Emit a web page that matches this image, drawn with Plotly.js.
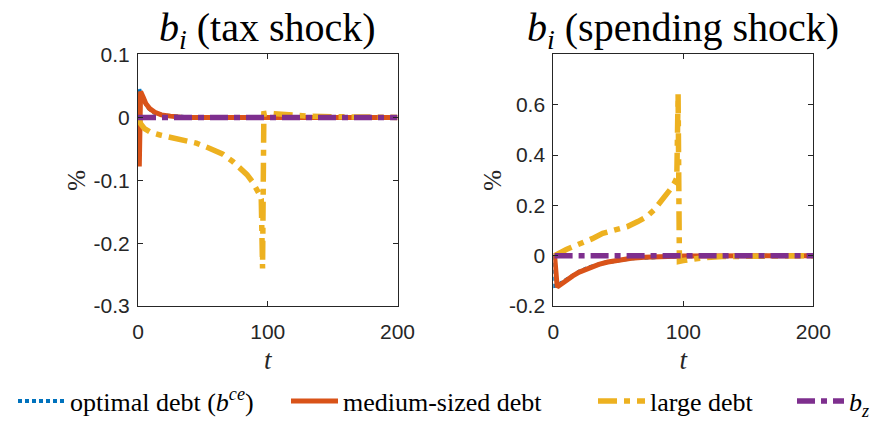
<!DOCTYPE html>
<html>
<head>
<meta charset="utf-8">
<script src="https://cdn.plot.ly/plotly-3.0.1.min.js"></script>
<style>html,body{margin:0;padding:0;background:#fff;}#chart{width:879px;height:425px;}</style>
</head>
<body>
<div id="chart"></div>
<script>
// ---- data ----
var seriesNames = ['optimal debt (<i>b<sup>ce</sup></i>)', 'medium-sized debt', 'large debt', '<i>b<sub>z</sub></i>'];
var panelTitles = ['<i>b<sub>i</sub></i> (tax shock)', '<i>b<sub>i</sub></i> (spending shock)'];
var xLabel = '<i>t</i>';
var yLabel = '%';

// tax shock panel
var tTaxOpt = [0, 1, 2, 3, 5, 8, 12, 20, 40, 200];
var bTaxOpt = [0, 0.045, 0.036, 0.032, 0.024, 0.015, 0.008, 0.003, 0, 0];
var tTaxMed = [0, 1, 2, 3, 4, 6, 9, 13, 18, 25, 35, 200];
var bTaxMed = [0, -0.078, 0.041, 0.038, 0.032, 0.022, 0.014, 0.008, 0.004, 0.002, 0, 0];
var tTaxLarge = [0, 2, 5, 10, 17, 25, 35, 45, 55, 65, 73, 80, 84, 88, 91, 93, 95, 96, 97, 100, 105, 110, 120, 130, 150, 200];
var bTaxLarge = [0, -0.01, -0.018, -0.024, -0.028, -0.032, -0.036, -0.041, -0.049, -0.058, -0.07, -0.082, -0.091, -0.102, -0.112, -0.12, -0.13, -0.24, 0.006, 0.007, 0.006, 0.005, 0.003, 0.002, 0.001, 0];
var tTaxZ = [0, 200];
var bTaxZ = [0, 0];

// spending shock panel
var tSpOpt = [0, 1, 3, 6, 10, 15, 20, 28, 40, 60, 100, 200];
var bSpOpt = [0, -0.12, -0.118, -0.108, -0.094, -0.078, -0.063, -0.045, -0.027, -0.01, -0.001, 0];
var tSpMed = [0, 1, 3, 6, 10, 15, 20, 28, 35, 42, 50, 60, 70, 80, 100, 200];
var bSpMed = [0, 0, -0.124, -0.112, -0.097, -0.08, -0.065, -0.046, -0.034, -0.025, -0.017, -0.01, -0.006, -0.003, -0.001, 0];
var tSpLarge = [1, 5, 10, 15, 20, 30, 38, 45, 57, 65, 72, 78, 82, 86, 90, 93, 95, 96, 97, 100, 105, 115, 130, 160, 200];
var bSpLarge = [0, 0.013, 0.025, 0.036, 0.046, 0.068, 0.089, 0.101, 0.116, 0.136, 0.156, 0.185, 0.209, 0.235, 0.264, 0.288, 0.31, 0.643, -0.022, -0.019, -0.015, -0.008, -0.003, -0.001, 0];
var tSpZ = [1, 200];
var bSpZ = [0, 0];

var xTicks = [0, 100, 200];
var xTickText = ['0', '100', '200'];
var yTicksTax = [-0.3, -0.2, -0.1, 0, 0.1];
var yTickTextTax = ['-0.3', '-0.2', '-0.1', '0', '0.1'];
var yTicksSp = [-0.2, 0, 0.2, 0.4, 0.6];
var yTickTextSp = ['-0.2', '0', '0.2', '0.4', '0.6'];

// ---- styles ----
var colors = ['#0072BD', '#D95319', '#EDB120', '#7E2F8E'];
var dashes = ['4px,3px', 'solid', '19px,7px,6px,7px', '18px,6px,6px,6px'];
var widths = [4, 5, 5.5, 5.5];
var legendIds = ['legend', 'legend2', 'legend3', 'legend4'];
var SERIF = 'Liberation Serif';
var SANS = 'Liberation Sans';

function tr(i, x, y, xa, ya, show) {
  return {
    x: x, y: y, xaxis: xa, yaxis: ya, type: 'scatter', mode: 'lines',
    name: seriesNames[i], showlegend: show, legend: legendIds[i],
    line: {color: colors[i], width: widths[i], dash: dashes[i]},
    hoverinfo: 'skip'
  };
}

var data = [
  tr(0, tTaxOpt, bTaxOpt, 'x', 'y', true),
  tr(1, tTaxMed, bTaxMed, 'x', 'y', true),
  tr(2, tTaxLarge, bTaxLarge, 'x', 'y', true),
  tr(3, tTaxZ, bTaxZ, 'x', 'y', true),
  tr(0, tSpOpt, bSpOpt, 'x2', 'y2', false),
  tr(1, tSpMed, bSpMed, 'x2', 'y2', false),
  tr(2, tSpLarge, bSpLarge, 'x2', 'y2', false),
  tr(3, tSpZ, bSpZ, 'x2', 'y2', false)
];

var axCol = '#262626';
function tickFont() { return {family: SANS, size: 21, color: axCol}; }
function xax(dom, anchor) {
  return {domain: dom, anchor: anchor, range: [0, 200], tickmode: 'array', tickvals: xTicks, ticktext: xTickText,
    showline: true, mirror: 'ticks', linecolor: axCol, linewidth: 1, ticks: 'inside', ticklen: 5,
    tickcolor: axCol, showgrid: false, zeroline: false, tickfont: tickFont(), ticklabelstandoff: 7, fixedrange: true,
    title: {text: xLabel, font: {family: SERIF, size: 27, color: axCol}, standoff: 7}};
}
function yax(dom, anchor, rng, tv, tt) {
  return {domain: dom, anchor: anchor, range: rng, tickmode: 'array', tickvals: tv, ticktext: tt,
    showline: true, mirror: 'ticks', linecolor: axCol, linewidth: 1, ticks: 'inside', ticklen: 5,
    tickcolor: axCol, showgrid: false, zeroline: false, tickfont: tickFont(), ticklabelstandoff: 3, fixedrange: true,
    title: {text: yLabel, font: {family: SERIF, size: 25, color: axCol}, standoff: 0}};
}

var yDom = [1 - 309 / 425, 1 - 55 / 425];
var xDom1 = [138 / 879, 397.5 / 879];
var xDom2 = [553.3 / 879, 813.3 / 879];

function leg(xpx) {
  return {x: xpx / 879, xanchor: 'left', y: 1 - 405 / 425, yanchor: 'middle', orientation: 'h',
    itemwidth: 47,
    font: {family: SERIF, size: 26, color: '#000'}, bgcolor: 'rgba(0,0,0,0)', borderwidth: 0};
}
function ann(text, xp, yp, size, color) {
  return {text: text, xref: 'paper', yref: 'paper', x: xp, y: yp, xanchor: 'center', yanchor: 'middle',
    showarrow: false, font: {family: SERIF, size: size, color: color}};
}

var layout = {
  width: 879, height: 425,
  margin: {l: 0, r: 0, t: 0, b: 0},
  font: {family: SERIF, size: 20, color: '#000'},
  paper_bgcolor: '#fff', plot_bgcolor: '#fff',
  showlegend: true,
  xaxis: xax(xDom1, 'y'),
  yaxis: yax(yDom, 'x', [-0.3, 0.1], yTicksTax, yTickTextTax),
  xaxis2: xax(xDom2, 'y2'),
  yaxis2: yax(yDom, 'x2', [-0.2, 0.8], yTicksSp, yTickTextSp),
  legend: leg(13), legend2: leg(286), legend3: leg(593), legend4: leg(792),
  annotations: [
    ann(panelTitles[0], (xDom1[0] + xDom1[1]) / 2, 1 - 30 / 425, 40, '#000'),
    ann(panelTitles[1], (xDom2[0] + xDom2[1]) / 2, 1 - 30 / 425, 40, '#000')
  ]
};

Plotly.newPlot('chart', data, layout, {staticPlot: true, displayModeBar: false});
</script>
</body>
</html>
